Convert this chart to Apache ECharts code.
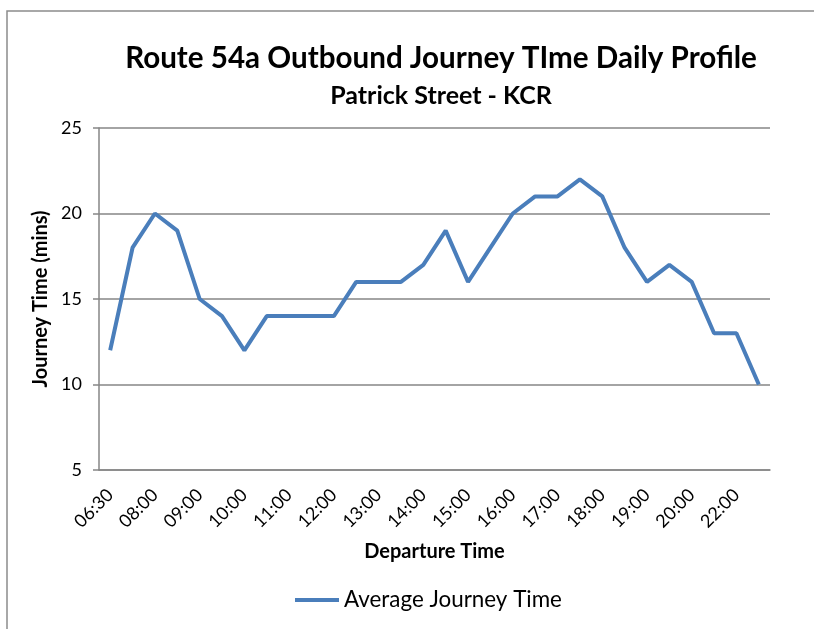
<!DOCTYPE html>
<html>
<head>
<meta charset="utf-8">
<script src="https://cdn.jsdelivr.net/npm/echarts@6/dist/echarts.min.js"></script>
<style>
  html, body { margin: 0; padding: 0; background: #fff; }
  #chart { width: 814px; height: 629px; }
</style>
</head>
<body>
<div id="chart"></div>
<script>
// departure times (only every second one is labelled on the axis)
var times = ['06:30', '07:30', '08:00', '08:30', '09:00', '09:30', '10:00', '10:30',
  '11:00', '11:30', '12:00', '12:30', '13:00', '13:30', '14:00', '14:30', '15:00',
  '15:30', '16:00', '16:30', '17:00', '17:30', '18:00', '18:30', '19:00', '19:30',
  '20:00', '21:00', '22:00', '23:00'];
// average journey time in minutes
var journeyTime = [12, 18, 20, 19, 15, 14, 12, 14, 14, 14, 14, 16, 16, 16, 17, 19,
  16, 18, 20, 21, 21, 22, 21, 18, 16, 17, 16, 13, 13, 10];

var font = 'Lato, "Open Sans", sans-serif';
var chart = echarts.init(document.getElementById('chart'));
chart.setOption({
  animation: false,
  textStyle: { fontFamily: font },
  title: {
    text: 'Route 54a Outbound Journey TIme Daily Profile',
    subtext: 'Patrick Street - KCR',
    left: 436,
    textAlign: 'center',
    top: 38,
    itemGap: 10,
    textStyle: { fontFamily: font, fontSize: 29.6, fontWeight: 'bold', color: '#000' },
    subtextStyle: { fontFamily: font, fontSize: 25, fontWeight: 'bold', color: '#000' }
  },
  graphic: [{
    type: 'rect',
    shape: { x: 7, y: 11, width: 820, height: 640 },
    style: { fill: 'none', stroke: '#8c8c8c', lineWidth: 1.5 },
    silent: true
  }],
  legend: {
    bottom: 13,
    left: 290,
    itemWidth: 44,
    itemHeight: 4,
    icon: 'rect',
    itemGap: 6,
    textStyle: { fontFamily: font, fontSize: 22.4, color: '#000' },
    data: ['Average Journey Time']
  },
  grid: { left: 99, right: 44, top: 128, bottom: 159 },
  xAxis: {
    type: 'category',
    data: times,
    name: 'Departure Time',
    nameLocation: 'middle',
    nameGap: 72,
    nameTextStyle: { fontFamily: font, fontSize: 20, fontWeight: 'bold', color: '#000' },
    axisLine: { lineStyle: { color: '#868686', width: 1.5 } },
    axisTick: { interval: 0, length: 6, lineStyle: { color: '#868686', width: 1.5 } },
    axisLabel: {
      interval: 1,
      rotate: 45,
      margin: 22,
      fontSize: 18,
      color: '#000',
      fontFamily: font
    }
  },
  yAxis: {
    type: 'value',
    min: 5,
    max: 25,
    interval: 5,
    name: 'Journey Time (mins)',
    nameLocation: 'middle',
    nameGap: 46,
    nameTextStyle: { fontFamily: font, fontSize: 20, fontWeight: 'bold', color: '#000' },
    axisLine: { show: true, lineStyle: { color: '#868686', width: 1.5 } },
    axisTick: { show: true, length: 6, lineStyle: { color: '#868686', width: 1.5 } },
    splitLine: { lineStyle: { color: '#868686', width: 1.5 } },
    axisLabel: { fontSize: 18, color: '#000', margin: 17, fontFamily: font }
  },
  series: [{
    name: 'Average Journey Time',
    type: 'line',
    data: journeyTime,
    symbol: 'none',
    color: '#4a7ebb',
    lineStyle: { width: 4, color: '#4a7ebb' }
  }]
});
</script>
</body>
</html>
